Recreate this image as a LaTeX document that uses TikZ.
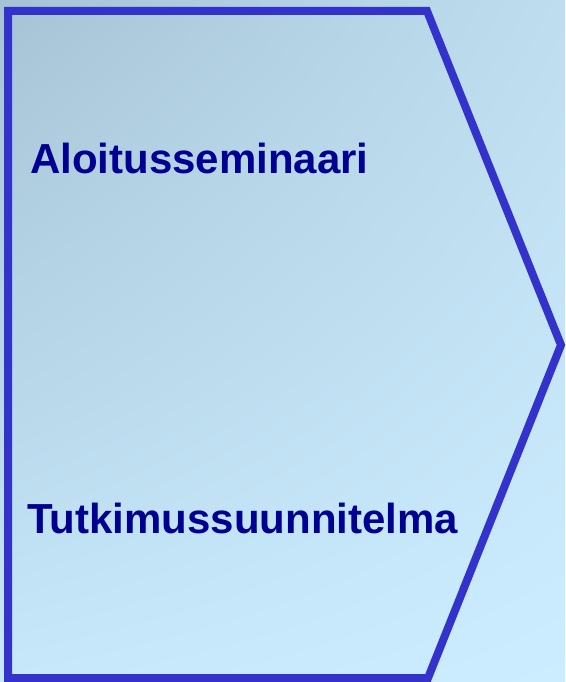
\documentclass[tikz,border=0pt]{standalone}
\usepackage{fontspec}
\setmainfont{Liberation Sans}
\usetikzlibrary{shadings}
\definecolor{phaseblue}{RGB}{51,51,204}
\definecolor{labelblue}{RGB}{0,0,145}
\definecolor{bgul}{RGB}{166,195,213}
\definecolor{bgur}{RGB}{190,222,240}
\definecolor{bgll}{RGB}{198,232,250}
\definecolor{bglr}{RGB}{204,237,255}
\begin{document}
\begin{tikzpicture}[x=1pt, y=-1pt,
  phase/.style={draw=phaseblue, line width=8pt, line join=miter},
  lbl/.style={anchor=base west, inner sep=0pt, text=labelblue, font=\fontsize{42}{50}\selectfont\bfseries}]
\useasboundingbox (0,0) rectangle (565,682);
% background
\shade[upper left=bgul, upper right=bgur, lower left=bgll, lower right=bglr] (0,0) rectangle (565,682);
% phase arrow
\coordinate (tl) at (8,11);
\coordinate (tr) at (427,11);
\coordinate (tip) at (561,345);
\coordinate (br) at (428,678);
\coordinate (bl) at (8,678);
\draw[phase] (tl) -- (tr) -- (tip) -- (br) -- (bl) -- cycle;
% labels
\node[lbl] (seminar) at (30,173) {Aloitusseminaari};
\node[lbl] (plan) at (27,533) {Tutkimussuunnitelma};
\end{tikzpicture}
\end{document}
